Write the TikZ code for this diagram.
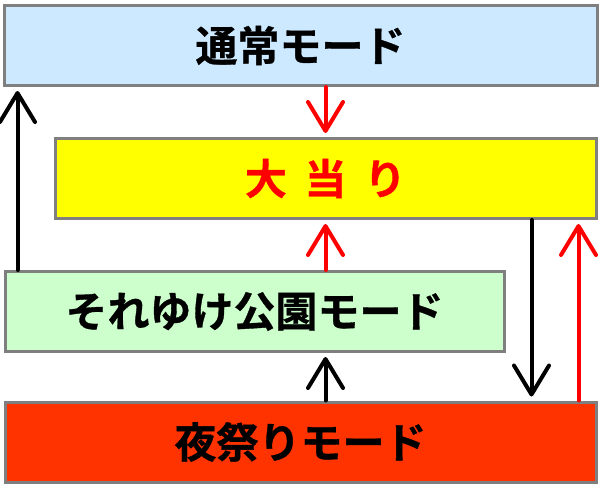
\documentclass[tikz,border=0pt]{standalone}
\usepackage{fontspec}
\newfontfamily\cjk{Noto Sans CJK JP}[BoldFont={Noto Sans CJK JP Bold},BoldFeatures={FakeBold=0.8}]
\usetikzlibrary{arrows.meta,calc}
\definecolor{boxgray}{HTML}{7F7F7F}
\definecolor{bluefill}{HTML}{CCE9FF}
\definecolor{yellowfill}{HTML}{FFFF00}
\definecolor{greenfill}{HTML}{CCFFCC}
\definecolor{redfill}{HTML}{FF3300}
\definecolor{arrowred}{HTML}{FF0000}
\tikzset{
  modebox/.style={draw=boxgray, line width=3pt, rectangle, minimum height=80pt,
    inner sep=0pt, font=\cjk\bfseries\fontsize{42}{46}\selectfont},
  conn/.style={line width=4pt, line cap=round,
    -{Straight Barb[length=29pt,width=35pt,line width=4pt,round]}, shorten >=4pt},
  redconn/.style={conn, draw=arrowred},
  blackconn/.style={conn, draw=black},
}
\begin{document}
\begin{tikzpicture}[x=1pt,y=-1pt]
\useasboundingbox (0,0) rectangle (600,487);
\node[modebox, fill=bluefill, minimum width=593pt] (normal) at (300.5,45.5) {通常モード};
\node[modebox, fill=yellowfill, minimum width=541pt, text=arrowred] (hit) at (325.5,178.5) {大\hspace{0.42em}当\hspace{0.42em}り};
\node[modebox, fill=greenfill, minimum width=499pt] (park) at (254.5,311.5) {それゆけ公園モード};
\node[modebox, fill=redfill, minimum width=591pt] (night) at (300.5,442) {夜祭りモード};
\coordinate (pL) at ($(park.north west)+(14,0)$);
\coordinate (hD) at ($(hit.south east)+(-66,0)$);
\coordinate (nR) at ($(night.north east)+(-19,0)$);
\draw[redconn] (normal.south -| hit.north) -- (hit.north);
\draw[redconn] (park.north -| hit.south) -- (hit.south);
\draw[blackconn] (pL) -- (pL |- normal.south);
\draw[blackconn] (hD) -- (hD |- night.north);
\draw[redconn] (nR) -- (nR |- hit.south);
\draw[blackconn] (night.north -| hit.south) -- (park.south -| hit.south);
\end{tikzpicture}
\end{document}
